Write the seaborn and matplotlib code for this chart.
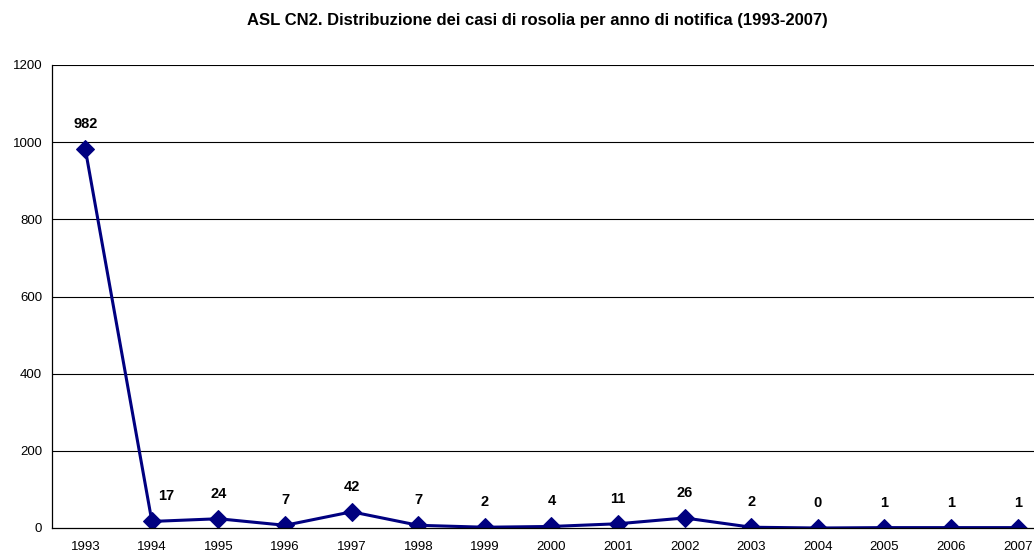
import matplotlib.pyplot as plt
import seaborn as sns
import pandas as pd
import numpy as np

anni = ["1993", "1994", "1995", "1996", "1997", "1998", "1999", "2000",
        "2001", "2002", "2003", "2004", "2005", "2006", "2007"]
casi = [982, 17, 24, 7, 42, 7, 2, 4, 11, 26, 2, 0, 1, 1, 1]
y_ticks = [0, 200, 400, 600, 800, 1000, 1200]

df = pd.DataFrame({"anno": anni, "casi": casi})

sns.set_style("white")
plt.rcParams['font.family'] = ['Liberation Sans', 'DejaVu Sans']
plt.rcParams['text.color'] = "black"
plt.rcParams['xtick.color'] = "black"
plt.rcParams['ytick.color'] = "black"

fig = plt.figure(figsize=(10.34, 5.51), dpi=100)
# plot area runs past the right edge, as in the original
ax = fig.add_axes([52 / 1034, 23 / 551, 999 / 1034, 463 / 551])

for y in y_ticks[1:]:
    ax.axhline(y, color="black", linewidth=0.8, zorder=0)

sns.lineplot(data=df, x="anno", y="casi", marker="D", color="#000080",
             linewidth=2.2, markersize=9, markeredgecolor="#000080", ax=ax)

# data labels
for i, v in enumerate(casi):
    dx = 10 if i == 1 else 0
    ax.annotate(str(v), (i, v), xytext=(dx, 18), textcoords="offset points",
                ha="center", va="center", fontsize=10.5, fontweight="bold")

ax.set_xlim(-0.5, len(anni) - 0.5)
ax.set_ylim(0, 1200)
ax.set_yticks(y_ticks)
ax.set_xticks(range(len(anni)))
ax.set_xticklabels(anni)
ax.set_xticks(np.arange(-0.5, len(anni), 1), minor=True)
ax.tick_params(axis="x", which="major", length=0, labelsize=9.5, pad=9)
ax.tick_params(axis="x", which="minor", length=4, width=0.8, color="black", direction="out")
ax.tick_params(axis="y", length=4, width=0.8, color="black", direction="out", labelsize=9.5, pad=3)
ax.set_xlabel("")
ax.set_ylabel("")

for s in ["top", "right"]:
    ax.spines[s].set_visible(False)
for s in ["left", "bottom"]:
    ax.spines[s].set_color("black")
    ax.spines[s].set_linewidth(0.9)

fig.text(537 / 1034, 1 - 20 / 551, "ASL CN2. Distribuzione dei casi di rosolia per anno di notifica (1993-2007)",
         ha="center", va="center", fontsize=12, fontweight="bold")

fig.savefig("out.png", dpi=100)
